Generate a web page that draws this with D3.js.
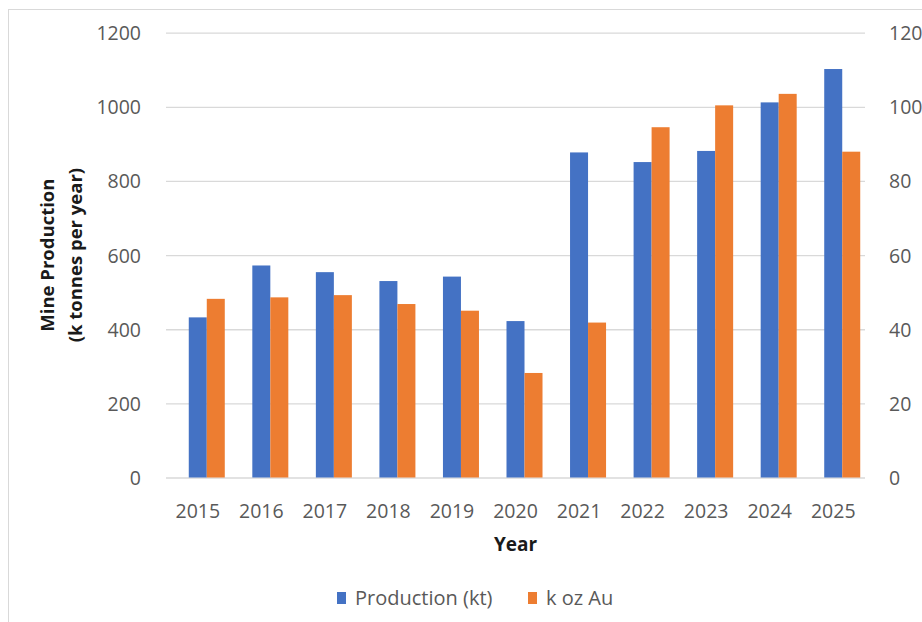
<!DOCTYPE html>
<html>
<head>
<meta charset="utf-8">
<script src="https://cdn.jsdelivr.net/npm/d3@7"></script>
<style>
  html, body { margin: 0; padding: 0; background: #fff; }
  svg { display: block; }
  text { font-family: "Open Sans", "Liberation Sans", sans-serif; }
</style>
</head>
<body>
<svg id="chart" width="922" height="622"></svg>
<script>
// Annual mine production and contained gold, 2015–2025
const years = ["2015", "2016", "2017", "2018", "2019", "2020", "2021", "2022", "2023", "2024", "2025"];
const production = [432, 572, 554, 530, 542, 422, 877, 851, 881, 1012, 1102];   // k tonnes per year (left axis)
const goldKoz = [48.2, 48.6, 49.2, 46.8, 45.0, 28.2, 41.8, 94.5, 100.4, 103.5, 87.9]; // k oz Au (right axis)
const seriesNames = ["Production (kt)", "k oz Au"];
const seriesColors = ["#4472C4", "#ED7D31"];
const leftTicks = [0, 200, 400, 600, 800, 1000, 1200];
const rightTicks = [0, 20, 40, 60, 80, 100, 120];

const svg = d3.select("#chart");
const W = 922, H = 622;

// outer chart frame
svg.append("rect")
  .attr("x", 8.5).attr("y", 9.5)
  .attr("width", 940).attr("height", 640)
  .attr("fill", "#fff").attr("stroke", "#D9D9D9").attr("stroke-width", 1);

const plot = { left: 166, right: 865, top: 32.7, bottom: 477.5 };

const x0 = d3.scaleBand().domain(years)
  .range([plot.left, plot.right])
  .paddingInner(0.15).paddingOuter(0.075);
// three slots per year; the two series occupy the last two
const x1 = d3.scaleBand().domain([0, 1, 2]).range([0, x0.bandwidth()]);

const yL = d3.scaleLinear().domain([0, 1200]).range([plot.bottom, plot.top]);
const yR = d3.scaleLinear().domain([0, 120]).range([plot.bottom, plot.top]);
const fmt = d3.format("d");

// gridlines
const grid = svg.append("g")
  .attr("transform", `translate(${plot.left},0)`)
  .call(d3.axisLeft(yL).tickValues(leftTicks).tickSize(-(plot.right - plot.left)).tickFormat(""));
grid.select(".domain").remove();
grid.selectAll("line").attr("stroke", "#D9D9D9").attr("stroke-width", 1.3);

// bars
const rows = years.map((yr, i) => ({ year: yr, vals: [production[i], goldKoz[i]] }));
const scales = [yL, yR];
const groups = svg.append("g").selectAll("g").data(rows).join("g")
  .attr("transform", d => `translate(${x0(d.year)},0)`);
groups.selectAll("rect")
  .data(d => d.vals.map((v, k) => ({ v, k })))
  .join("rect")
  .attr("x", d => x1(d.k + 1))
  .attr("width", x1.bandwidth())
  .attr("y", d => scales[d.k](d.v))
  .attr("height", d => plot.bottom - scales[d.k](d.v))
  .attr("fill", d => seriesColors[d.k]);

// left axis labels
const axL = svg.append("g")
  .attr("transform", `translate(${plot.left - 25},0)`)
  .call(d3.axisLeft(yL).tickValues(leftTicks).tickFormat(fmt).tickSize(0).tickPadding(0));
axL.select(".domain").remove();
axL.selectAll("text")
  .attr("font-size", "19.5px").attr("fill", "#595959")
  .attr("font-family", "'Open Sans', 'Liberation Sans', sans-serif")
  .attr("dy", "0.36em");

// right axis labels
const axR = svg.append("g")
  .attr("transform", `translate(${plot.right + 24},0)`)
  .call(d3.axisRight(yR).tickValues(rightTicks).tickFormat(fmt).tickSize(0).tickPadding(0));
axR.select(".domain").remove();
axR.selectAll("text")
  .attr("font-size", "19.5px").attr("fill", "#595959")
  .attr("font-family", "'Open Sans', 'Liberation Sans', sans-serif")
  .attr("dy", "0.36em");

// category axis labels
const axX = svg.append("g")
  .attr("transform", `translate(0,${plot.bottom + 26})`)
  .call(d3.axisBottom(x0).tickSize(0).tickPadding(0));
axX.select(".domain").remove();
axX.selectAll("text")
  .attr("font-size", "19.5px").attr("fill", "#595959")
  .attr("font-family", "'Open Sans', 'Liberation Sans', sans-serif")
  .attr("dy", "0.75em");

// axis titles
svg.append("text")
  .attr("x", (plot.left + plot.right) / 2).attr("y", 551)
  .attr("text-anchor", "middle")
  .attr("font-size", "19px").attr("font-weight", "bold").attr("fill", "#1a1a1a")
  .text("Year");

const yTitle = svg.append("text")
  .attr("transform", `translate(0,${(plot.top + plot.bottom) / 2}) rotate(-90)`)
  .attr("text-anchor", "middle")
  .attr("font-size", "18.5px").attr("font-weight", "bold").attr("fill", "#1a1a1a");
yTitle.append("tspan").attr("x", 0).attr("y", 54).text("Mine Production");
yTitle.append("tspan").attr("x", 0).attr("y", 82).text("(k tonnes per year)");

// legend
const legendItems = [
  { name: seriesNames[0], color: seriesColors[0], x: 337 },
  { name: seriesNames[1], color: seriesColors[1], x: 528 }
];
const lg = svg.append("g").selectAll("g").data(legendItems).join("g")
  .attr("transform", d => `translate(${d.x},592)`);
lg.append("rect").attr("width", 9).attr("height", 12).attr("fill", d => d.color);
lg.append("text")
  .attr("x", 18).attr("y", 6).attr("dy", "0.36em")
  .attr("font-size", "20px").attr("fill", "#595959")
  .text(d => d.name);
</script>
</body>
</html>
